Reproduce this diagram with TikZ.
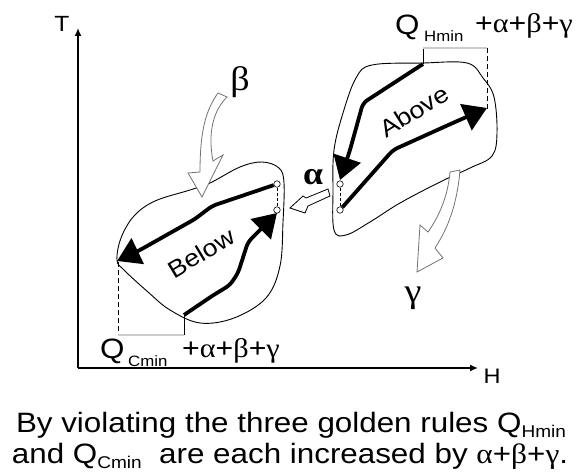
\documentclass[tikz,border=0pt]{standalone}
\usepackage{fontspec}
\setmainfont[FakeStretch=1.12]{Liberation Sans}
\newfontfamily\grk[FakeStretch=1.12]{Liberation Serif}
\usetikzlibrary{arrows.meta}
\tikzset{
  axis/.style={line width=1.5pt},
  blob/.style={line width=0.9pt},
  bigarrow/.style={line width=3.8pt, rounded corners=5pt, -{Triangle[length=23pt,width=28pt]}},
  openarrow/.style={draw=black!55, line width=0.8pt, fill=white},
  alphaarrow/.style={draw=black, line width=0.8pt, fill=white},
  brk/.style={draw=black!75, double=black!20, double distance=1.3pt, line width=0.5pt},
  dashln/.style={line width=0.8pt, dash pattern=on 5pt off 3pt},
  ring/.style={circle, draw, fill=white, inner sep=0pt, minimum size=6.5pt, line width=0.6pt},
  lbl/.style={inner sep=0pt},
}
\newcommand\capsub[1]{\raisebox{-5pt}{\fontsize{17}{17}\selectfont #1}}
\begin{document}
\begin{tikzpicture}[x=1pt,y=-1pt]
\useasboundingbox (0,0) rectangle (578,473);
% axes
\coordinate (O) at (78,368);
\coordinate (Ttip) at (78,28);
\coordinate (Htip) at (478,368);
\draw[axis,-{Latex[length=8pt,width=7pt]}] (O) -- (Ttip);
\draw[axis,-{Latex[length=8pt,width=7pt]}] (O) -- (Htip);
\node[lbl] (T) at (62,24) {\fontsize{22}{24}\selectfont T};
\node[lbl] (H) at (492,376) {\fontsize{21}{24}\selectfont H};

% upper blob
\draw[blob] plot[smooth cycle, tension=0.6] coordinates {
 (423,63) (467,63) (483,78) (494,97) (497,133) (492,156) (470,168)
 (440,182) (400,203) (370,222) (346,235) (334,230) (333,190) (334,150)
 (343,113) (356,78) (372,65)};
% lower blob
\draw[blob] plot[smooth cycle, tension=0.6] coordinates {
 (117,260) (121,238) (134,216) (155,201) (190,190) (210,183) (240,167)
 (262,162) (279,168) (284,183) (283,222) (280,266) (266,298) (234,318)
 (200,323) (170,310) (148,292) (124,270)};

% small circles
\node[ring] (a1) at (340,184) {};
\node[ring] (a2) at (340,210) {};
\node[ring] (b1) at (277,184) {};
\node[ring] (b2) at (277,210) {};
\draw[line width=0.6pt, dash pattern=on 3pt off 2pt] (a1) -- (a2);
\draw[line width=0.6pt, dash pattern=on 3pt off 2pt] (b1) -- (b2);

% brackets
\coordinate (qh1) at (423,48);
\coordinate (qh2) at (487,48);
\coordinate (qh3) at (487,110);
\coordinate (aboveStart) at (423,64);
\draw[line width=0.8pt] (qh1) -- (aboveStart);
\draw[dashln] (qh2) -- (qh3);
\draw[brk] (qh1) -- (qh2);

\coordinate (qc0) at (118,262);
\coordinate (qc1) at (118,335);
\coordinate (qc2) at (184,335);
\coordinate (belowStart) at (184,315);
\draw[dashln] (qc0) -- (qc1);
\draw[line width=0.8pt] (qc2) -- (belowStart);
\draw[brk] (qc1) -- (qc2);

% above arrows
\draw[bigarrow] (aboveStart) -- (363,103) -- (350,150) -- (340,180);
\draw[bigarrow] (a2) -- (393,150) -- (455,122) -- (487,108);
% below arrows
\draw[bigarrow] (b1) -- (212,206) -- (195,219) -- (140,250) -- (117,261);
\draw[bigarrow] (belowStart) -- (212,296) -- (230,285) -- (238,273) -- (248,242) -- (277,213);

% texts in blobs
\node[lbl, rotate=32] (above) at (414,111) {\fontsize{24}{26}\selectfont Above};
\node[lbl, rotate=31] (below) at (201,253) {\fontsize{24}{26}\selectfont Below};

% beta arrow
\draw[openarrow] (218,93) .. controls (206,110) and (200,130) .. (200,172)
  -- (188,173) -- (202,197) -- (223,155) -- (213,161)
  .. controls (208,135) and (212,112) .. (227,97) -- cycle;
\node[lbl] (beta) at (240,82) {\fontsize{34}{36}\selectfont\grk β};

% gamma arrow
\draw[openarrow] (450,172) .. controls (448,195) and (440,215) .. (428,232)
  -- (420,225) -- (417,272) -- (443,258) -- (435,248)
  .. controls (448,228) and (457,205) .. (460,170) -- cycle;
\node[lbl] (gamma) at (413,298) {\fontsize{34}{36}\selectfont\grk γ};

% alpha arrow
\draw[alphaarrow] (328,189) -- (306,198) -- (303,196) -- (290,208) -- (305,213) -- (308,206) -- (330,196) -- cycle;
\node[lbl] (alpha) at (313,177) {\fontsize{32}{34}\selectfont\grk\bfseries α};

% Q labels
\node[lbl, anchor=base west] (QH) at (395,35) {\fontsize{28}{30}\selectfont Q};
\node[lbl, anchor=base west] (QHs) at (424,42) {\fontsize{15}{16}\selectfont Hmin};
\node[lbl, anchor=base west] (QHp) at (475,33) {\fontsize{27}{28}\selectfont +{\grk α}+{\grk β}+{\grk γ}};
\node[lbl, anchor=base west] (QC) at (100,358) {\fontsize{28}{30}\selectfont Q};
\node[lbl, anchor=base west] (QCs) at (128,366) {\fontsize{15}{16}\selectfont Cmin};
\node[lbl, anchor=base west] (QCp) at (182,357) {\fontsize{27}{28}\selectfont +{\grk α}+{\grk β}+{\grk γ}};

% caption
\node[lbl, anchor=base, font={\fontsize{28}{31}\selectfont}] (cap1) at (291,432)
  {By violating the three golden rules Q\capsub{Hmin}};
\node[lbl, anchor=base, font={\fontsize{28}{31}\selectfont}] (cap2) at (290,463)
  {and Q\capsub{Cmin}\ \ are each increased by {\grk α}+{\grk β}+{\grk γ}.};
\end{tikzpicture}
\end{document}
